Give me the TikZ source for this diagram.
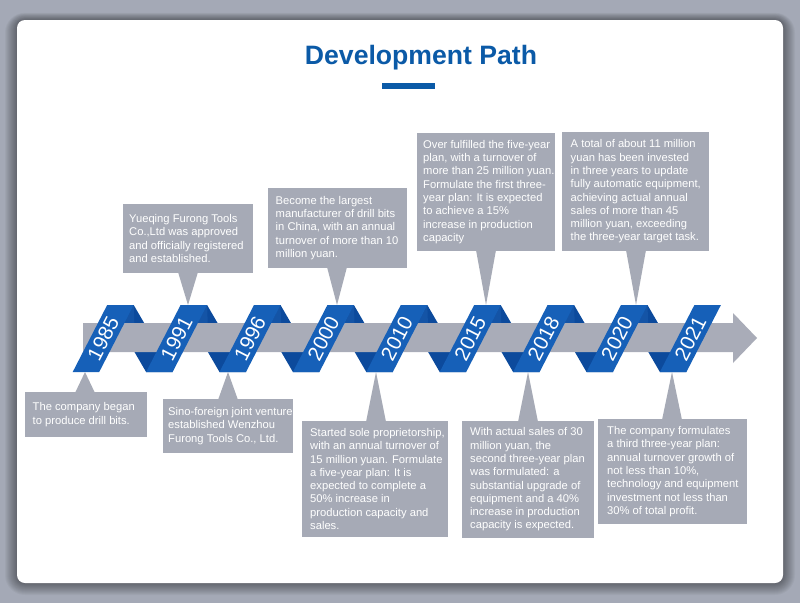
\documentclass[tikz,border=0pt]{standalone}
\usepackage{fontspec}
\setmainfont{Liberation Sans}
\usetikzlibrary{calc}
\definecolor{bgout}{HTML}{A4A9B6}
\definecolor{boxg}{HTML}{A6AAB6}
\definecolor{bandg}{HTML}{A9ACB8}
\definecolor{rib}{HTML}{1660B8}
\definecolor{ribmid}{HTML}{1454A6}
\definecolor{ribdark}{HTML}{0C4A9C}
\definecolor{titleblue}{HTML}{0B5AA7}
\newcommand{\evbox}[7]{%
  \node[evrect, minimum width={#4-#2}, minimum height={#5-#3}] (#1) at ({(#2+#4)/2},{(#3+#5)/2}) {};
  \node[evtext, anchor=west] (#1t) at ($(#1.west)+(#6,0)$) {#7};
}
\begin{document}
\begin{tikzpicture}[x=1pt,y=-1pt,
  evrect/.style={fill=boxg, draw=none, inner sep=0pt, outer sep=0pt, rectangle},
  evtext/.style={font=\fontsize{11.2}{13.3}\selectfont, text=white, align=left, inner sep=0pt},
  yeartext/.style={font=\fontsize{20.5}{22}\selectfont, text=white, inner sep=0pt},
  ptr/.style={fill=boxg, draw=none}]
\useasboundingbox (0,0) rectangle (800,603);
\fill[bgout] (0,0) rectangle (800,603);
% card shadow
\foreach \k in {1,...,12}{
  \fill[black, opacity=0.035, rounded corners={8+\k}] ({17-\k},{20-0.6*\k}) rectangle ({783+\k},{583+\k});
}
\fill[white, rounded corners=8] (17,20) rectangle (783,583);
% title
\node[font=\bfseries\fontsize{26.6}{30}\selectfont, text=titleblue, anchor=base, inner sep=0pt] (title) at (421,64.5) {Development Path};
\fill[titleblue] (382,83) rectangle (435,89);
% ribbon back folds
\foreach \i in {0,...,7}{
  \pgfmathsetmacro{\b}{72.7+73.4*\i}
  \fill[ribdark] ({\b+34.5},305) -- ({\b+61},305) -- ({\b+73.4+26.5},372) -- ({\b+73.4},372) -- cycle;
  \fill[ribmid] ({\b+61},305) -- ({\b+51.7},323) -- ({\b+61.6},323) -- cycle;
}
% band arrow
\fill[bandg] (83,323) -- (733,323) -- (733,313) -- (757,338) -- (733,363) -- (733,352) -- (83,352) -- cycle;
% ribbon fronts
\foreach \y [count=\i from 0] in {1985,1991,1996,2000,2010,2015,2018,2020,2021}{
  \pgfmathsetmacro{\b}{72.7+73.4*\i}
  \fill[rib] ({\b},372) -- ({\b+26.5},372) -- ({\b+61},305) -- ({\b+34.5},305) -- cycle;
  \node[yeartext, rotate=62.8] (y\y) at ({\b+30.5},338.5) {\y};
}
% pointer apexes
\coordinate (p1985) at (85,372);
\coordinate (p1991) at (188,305);
\coordinate (p1996) at (228,372);
\coordinate (p2000) at (337,305);
\coordinate (p2010) at (376,372);
\coordinate (p2015) at (486,305);
\coordinate (p2018) at (528,372);
\coordinate (p2020) at (636,305);
\coordinate (p2021) at (672,372);
% boxes
\evbox{b1985}{25}{392}{147}{437}{7.5}{The company began\\to produce drill bits.}
\evbox{b1991}{123}{204}{253}{273}{6}{Yueqing Furong Tools\\Co.,Ltd was approved\\and officially registered\\and established.}
\evbox{b1996}{163}{399}{293}{453}{5}{Sino-foreign joint venture\\established Wenzhou\\Furong Tools Co., Ltd.}
\evbox{b2000}{268}{188}{407}{268}{7.5}{Become the largest\\manufacturer of drill bits\\in China, with an annual\\turnover of more than 10\\million yuan.}
\evbox{b2010}{302}{421}{448}{537}{8}{Started sole proprietorship,\\with an annual turnover of\\15 million yuan. Formulate\\a five-year plan: It is\\expected to complete a\\50\% increase in\\production capacity and\\sales.}
\evbox{b2015}{417}{133}{555}{251}{6}{Over fulfilled the five-year\\plan, with a turnover of\\more than 25 million yuan.\\Formulate the first three-\\year plan: It is expected\\to achieve a 15\%\\increase in production\\capacity}
\evbox{b2018}{462}{421}{594}{538}{8}{With actual sales of 30\\million yuan, the\\second three-year plan\\was formulated: a\\substantial upgrade of\\equipment and a 40\%\\increase in production\\capacity is expected.}
\evbox{b2020}{562}{132}{709}{251}{8.5}{A total of about 11 million\\yuan has been invested\\in three years to update\\fully automatic equipment,\\achieving actual annual\\sales of more than 45\\million yuan, exceeding\\the three-year target task.}
\evbox{b2021}{598}{419}{747}{524}{9}{The company formulates\\a third three-year plan:\\annual turnover growth of\\not less than 10\%,\\technology and equipment\\investment not less than\\30\% of total profit.}
% pointers (below boxes)
\foreach \n in {1985,1996,2010,2018,2021}{
  \fill[ptr] ($(p\n|-b\n.north)+(-10,1)$) -- (p\n) -- ($(p\n|-b\n.north)+(10,1)$) -- cycle;
}
% pointers (above boxes)
\foreach \n in {1991,2000,2015,2020}{
  \fill[ptr] ($(p\n|-b\n.south)+(-10,-1)$) -- (p\n) -- ($(p\n|-b\n.south)+(10,-1)$) -- cycle;
}
\end{tikzpicture}
\end{document}
